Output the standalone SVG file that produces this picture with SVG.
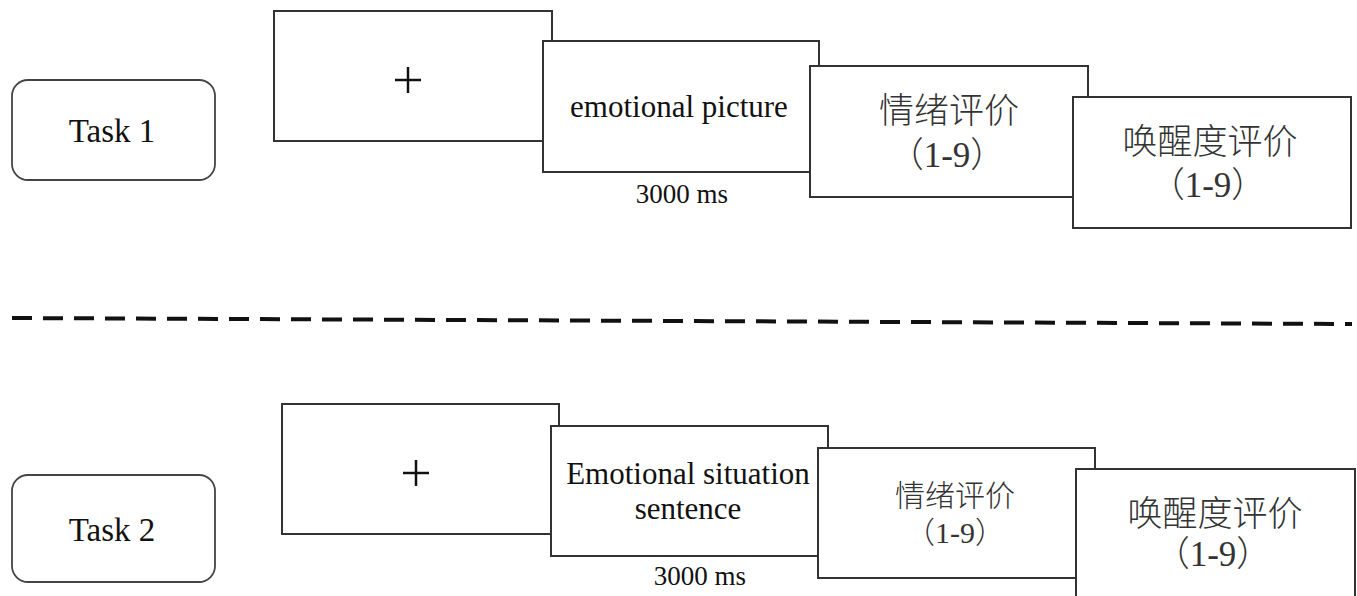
<svg xmlns="http://www.w3.org/2000/svg" width="1357" height="596" viewBox="0 0 1357 596">
<style>
.box{fill:#fff;stroke:#333;stroke-width:2}
.task{fill:#fff;stroke:#444;stroke-width:1.8}
.t{font-family:"Liberation Serif","Noto Sans CJK SC",serif;fill:#111;text-anchor:middle}
.cn{font-family:"Liberation Serif","Noto Sans CJK SC",serif;fill:#333;text-anchor:middle;font-weight:300}
.plus{stroke:#111;stroke-width:2.5}
</style>
<rect width="1357" height="596" fill="#fff"/>
<g id="task1">
<rect class="task" x="12" y="80" width="203" height="100" rx="16"/>
<text class="t" x="112" y="142" font-size="33">Task 1</text>
</g>
<g id="fix1">
<rect class="box" x="274" y="11" width="278" height="130"/>
<line class="plus" x1="395" y1="80" x2="421" y2="80"/><line class="plus" x1="408" y1="67" x2="408" y2="93"/>
</g>
<g id="pic1">
<rect class="box" x="543" y="41" width="276" height="131"/>
<text class="t" x="679" y="117" font-size="31">emotional picture</text>
<text class="t" x="682" y="203" font-size="27">3000 ms</text>
</g>
<g id="rate1">
<rect class="box" x="810" y="66" width="278" height="131"/>
<text class="cn" x="949" y="123" font-size="35">情绪评价</text>
<text class="cn" x="947" y="167" font-size="35">（1-9）</text>
</g>
<g id="arousal1">
<rect class="box" x="1073" y="97" width="278" height="131"/>
<text class="cn" x="1210" y="154" font-size="35">唤醒度评价</text>
<text class="cn" x="1208" y="197" font-size="35">（1-9）</text>
</g>
<g id="connectors">
<line x1="12" y1="318" x2="1352" y2="324" stroke="#111" stroke-width="4" stroke-dasharray="20 11"/>
</g>
<g id="task2">
<rect class="task" x="12" y="475" width="203" height="107" rx="16"/>
<text class="t" x="112" y="541" font-size="33">Task 2</text>
</g>
<g id="fix2">
<rect class="box" x="282" y="404" width="277" height="130"/>
<line class="plus" x1="403" y1="473" x2="429" y2="473"/><line class="plus" x1="416" y1="460" x2="416" y2="486"/>
</g>
<g id="sent2">
<rect class="box" x="551" y="426" width="277" height="130"/>
<text class="t" x="688" y="484" font-size="31">Emotional situation</text>
<text class="t" x="688" y="519" font-size="31">sentence</text>
<text class="t" x="700" y="585" font-size="27">3000 ms</text>
</g>
<g id="rate2">
<rect class="box" x="818" y="448" width="277" height="130"/>
<text class="cn" x="955" y="506" font-size="30">情绪评价</text>
<text class="cn" x="955" y="543" font-size="30">（1-9）</text>
</g>
<g id="arousal2">
<rect class="box" x="1076" y="469" width="279" height="140"/>
<text class="cn" x="1215" y="526" font-size="35">唤醒度评价</text>
<text class="cn" x="1213" y="566" font-size="35">（1-9）</text>
</g>
</svg>
